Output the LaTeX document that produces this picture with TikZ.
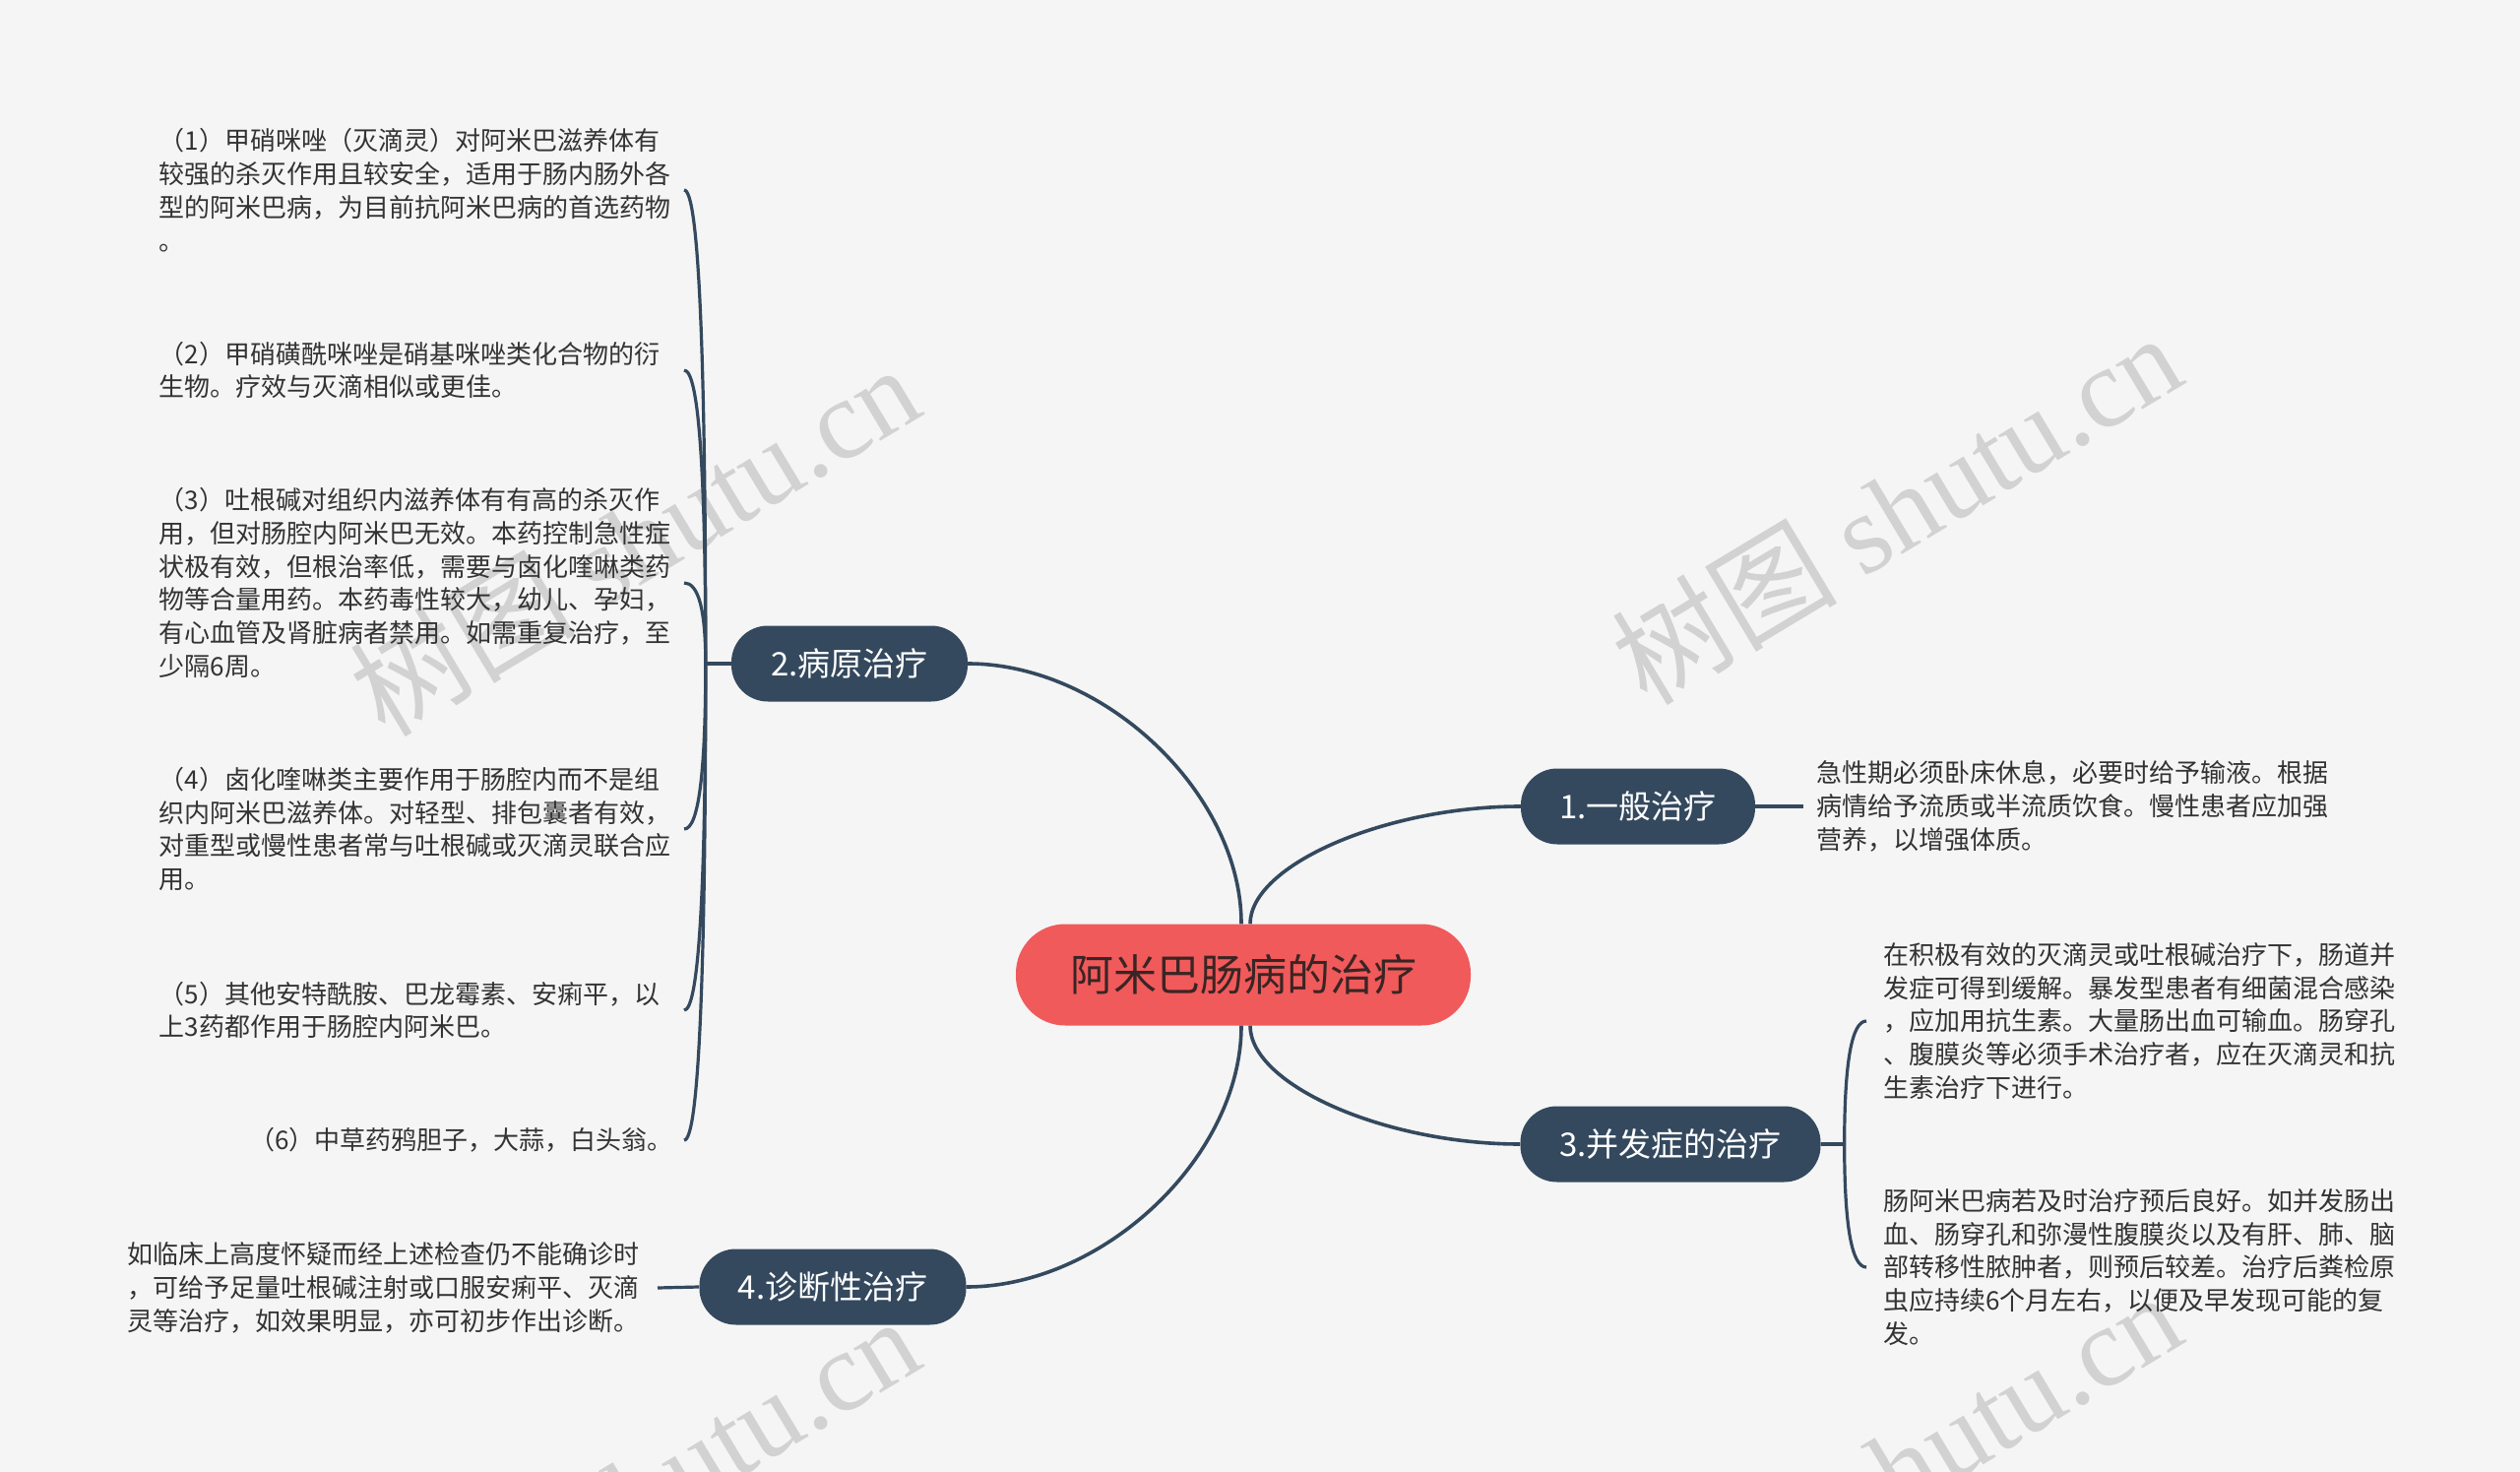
\documentclass[tikz,border=0pt]{standalone}
\usepackage{fontspec}
\setmainfont{Noto Sans CJK SC}
\newfontfamily\wmserif{Liberation Serif}
\newfontfamily\wmcjk{Noto Sans CJK SC}
\usetikzlibrary{calc}
\definecolor{bgc}{HTML}{F5F5F5}
\definecolor{navy}{HTML}{34495E}
\definecolor{rootred}{HTML}{F05A5A}
\definecolor{roottext}{HTML}{3A2424}
\definecolor{leaftext}{HTML}{333333}
\definecolor{wmc}{HTML}{D2D2D2}
\begin{document}
\begin{tikzpicture}[x=1pt,y=-1pt,
  conn/.style={draw=navy,line width=3.6pt},
  sub/.style={draw=navy,line width=3.2pt},
  rootbox/.style={fill=rootred,text=roottext,rounded corners=50pt,minimum width=462pt,minimum height=103pt,inner sep=0pt,font=\fontsize{44}{52}\selectfont},
  topic/.style={fill=navy,text=white,rounded corners=37pt,minimum height=77pt,inner sep=0pt,font=\fontsize{33}{40}\selectfont},
  leafl/.style={anchor=east,text width=522pt,align=left,inner sep=0pt,text=leaftext,font=\fontsize{26}{33.8}\selectfont},
  leafr/.style={anchor=west,text width=522pt,align=left,inner sep=0pt,text=leaftext,font=\fontsize{26}{33.8}\selectfont},
  wmark/.style={text=wmc,rotate=31,inner sep=0pt,font=\fontsize{115}{130}\selectfont}]
\fill[bgc] (0,0) rectangle (2560,1495);
\useasboundingbox (0,0) rectangle (2560,1495);
\clip (0,0) rectangle (2560,1495);
% watermarks
\node[wmark] (wm1) at (644,548) {\wmcjk 树图 \wmserif shutu.cn};
\node[wmark] (wm2) at (1926,516) {\wmcjk 树图 \wmserif shutu.cn};
\node[wmark] (wm3) at (644,1515) {\wmcjk 树图 \wmserif shutu.cn};
\node[wmark] (wm4) at (1926,1490) {\wmcjk 树图 \wmserif shutu.cn};
% main nodes
\node[rootbox] (root) at (1263,990) {阿米巴肠病的治疗};
\node[topic,minimum width=238pt] (n1) at (1664,819) {1.一般治疗};
\node[topic,minimum width=240pt] (n2) at (863,674) {2.病原治疗};
\node[topic,minimum width=305pt] (n3) at (1697,1162) {3.并发症的治疗};
\node[topic,minimum width=271pt] (n4) at (846,1307) {4.诊断性治疗};
% leaves of 2
\node[leafl] (L1) at (684,193) {（1）甲硝咪唑（灭滴灵）对阿米巴滋养体有\\较强的杀灭作用且较安全，适用于肠内肠外各\\型的阿米巴病，为目前抗阿米巴病的首选药物\\。};
\node[leafl] (L2) at (684,376) {（2）甲硝磺酰咪唑是硝基咪唑类化合物的衍\\生物。疗效与灭滴相似或更佳。};
\node[leafl] (L3) at (684,592) {（3）吐根碱对组织内滋养体有有高的杀灭作\\用，但对肠腔内阿米巴无效。本药控制急性症\\状极有效，但根治率低，需要与卤化喹啉类药\\物等合量用药。本药毒性较大，幼儿、孕妇，\\有心血管及肾脏病者禁用。如需重复治疗，至\\少隔6周。};
\node[leafl] (L4) at (684,842) {（4）卤化喹啉类主要作用于肠腔内而不是组\\织内阿米巴滋养体。对轻型、排包囊者有效，\\对重型或慢性患者常与吐根碱或灭滴灵联合应\\用。};
\node[leafl] (L5) at (684,1026) {（5）其他安特酰胺、巴龙霉素、安痢平，以\\上3药都作用于肠腔内阿米巴。};
\node[leafl,text width=,align=right] (L6) at (684,1158) {（6）中草药鸦胆子，大蒜，白头翁。};
% leaf of 1
\node[leafr] (R1) at (1845,819) {急性期必须卧床休息，必要时给予输液。根据\\病情给予流质或半流质饮食。慢性患者应加强\\营养，以增强体质。};
% leaves of 3
\node[leafr] (R3a) at (1913,1037) {在积极有效的灭滴灵或吐根碱治疗下，肠道并\\发症可得到缓解。暴发型患者有细菌混合感染\\，应加用抗生素。大量肠出血可输血。肠穿孔\\、腹膜炎等必须手术治疗者，应在灭滴灵和抗\\生素治疗下进行。};
\node[leafr] (R3b) at (1913,1287) {肠阿米巴病若及时治疗预后良好。如并发肠出\\血、肠穿孔和弥漫性腹膜炎以及有肝、肺、脑\\部转移性脓肿者，则预后较差。治疗后粪检原\\虫应持续6个月左右，以便及早发现可能的复\\发。};
% leaf of 4
\node[leafl] (L7) at (652,1308) {如临床上高度怀疑而经上述检查仍不能确诊时\\，可给予足量吐根碱注射或口服安痢平、灭滴\\灵等治疗，如效果明显，亦可初步作出诊断。};
% root connectors
\coordinate (r1) at ($(root.north)+(7,0)$);
\coordinate (r2) at ($(root.north)+(-2,0)$);
\coordinate (r3) at ($(root.south)+(7,0)$);
\coordinate (r4) at ($(root.south)+(-2,0)$);
\coordinate (k1) at (r1|-n1.west);
\coordinate (k2) at (r2|-n2.east);
\coordinate (k3) at (r3|-n3.west);
\coordinate (k4) at (r4|-n4.east);
\draw[conn] (r1) .. controls ($(r1)!0.5!(k1)$) and ($(n1.west)!0.5!(k1)$) .. (n1.west);
\draw[conn] (r2) .. controls ($(r2)!0.5!(k2)$) and ($(n2.east)!0.5!(k2)$) .. (n2.east);
\draw[conn] (r3) .. controls ($(r3)!0.5!(k3)$) and ($(n3.west)!0.5!(k3)$) .. (n3.west);
\draw[conn] (r4) .. controls ($(r4)!0.5!(k4)$) and ($(n4.east)!0.5!(k4)$) .. (n4.east);
% branch 2 bracket
\coordinate (s2) at ($(n2.west)+(-26,0)$);
\draw[sub] (n2.west) -- (s2);
\foreach \lf in {L1,L2,L3,L4,L5,L6}{
  \coordinate (e\lf) at ($(\lf.east)+(11,0)$);
  \coordinate (c\lf) at (s2|-e\lf);
  \draw[sub] (s2) .. controls ($(s2)!0.667!(c\lf)$) and ($(e\lf)!0.667!(c\lf)$) .. (e\lf);
}
% branch 3 bracket
\coordinate (s3) at ($(n3.east)+(24,0)$);
\draw[sub] (n3.east) -- (s3);
\foreach \lf in {R3a,R3b}{
  \coordinate (e\lf) at ($(\lf.west)+(-17,0)$);
  \coordinate (c\lf) at (s3|-e\lf);
  \draw[sub] (s3) .. controls ($(s3)!0.667!(c\lf)$) and ($(e\lf)!0.667!(c\lf)$) .. (e\lf);
}
% branch 1 and 4
\coordinate (e1) at ($(R1.west)+(-13,0)$);
\draw[sub] (n1.east) -- (e1);
\coordinate (e4) at ($(L7.east)+(16,0)$);
\draw[sub] (n4.west) -- (e4);
\end{tikzpicture}
\end{document}
